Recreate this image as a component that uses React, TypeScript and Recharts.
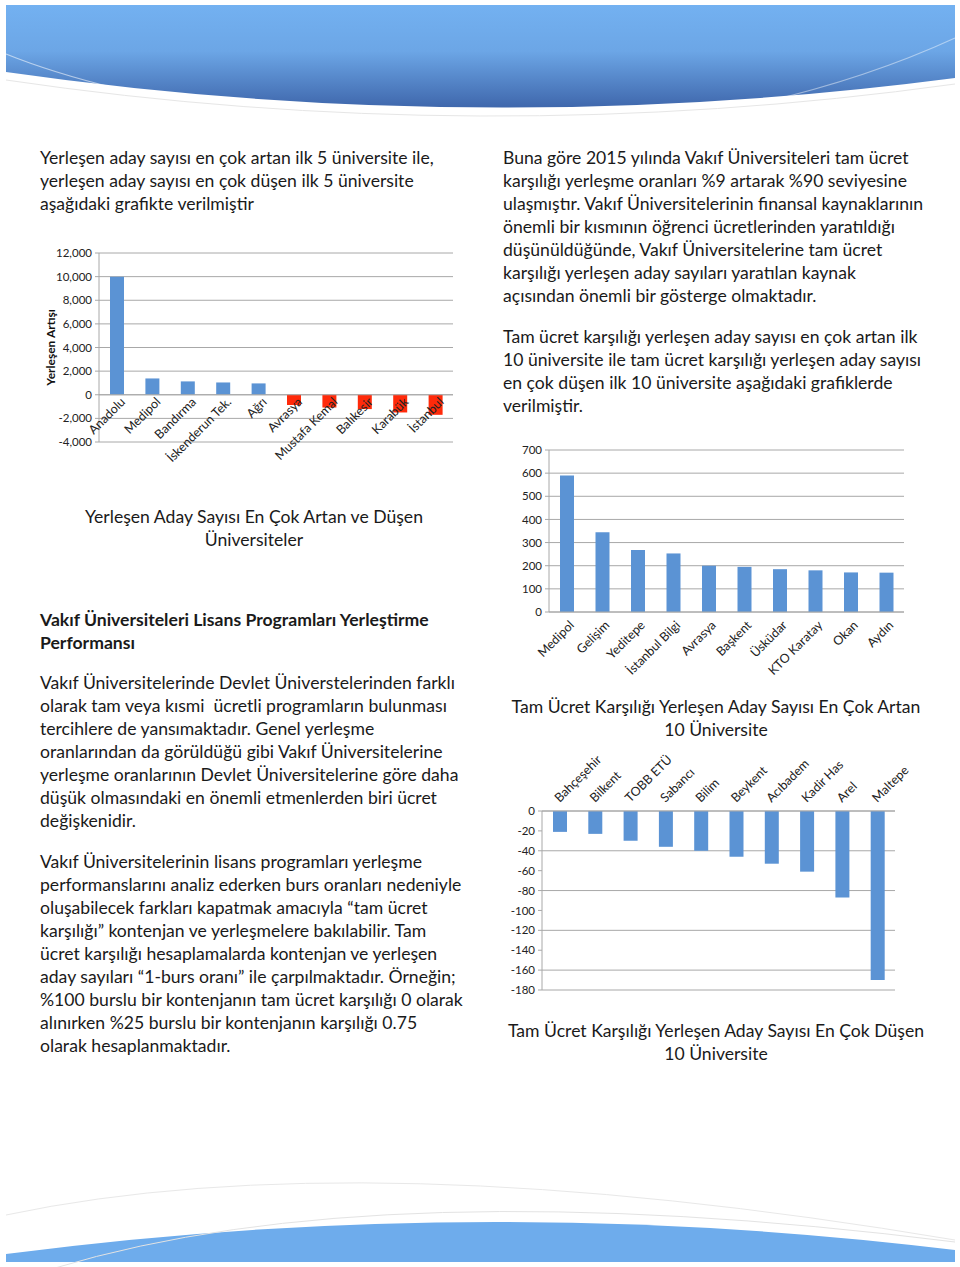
import { Bar, BarChart, CartesianGrid, Cell, LabelList, ReferenceLine, XAxis, YAxis } from "recharts";

const changeNames = ["Anadolu", "Medipol", "Bandırma", "İskenderun Tek.", "Ağrı", "Avrasya", "Mustafa Kemal", "Balıkesir", "Karabük", "İstanbul"];
const changeValues = [10000, 1380, 1130, 1040, 960, -870, -1080, -1215, -1500, -1700];
const changeTicks = [-4000, -2000, 0, 2000, 4000, 6000, 8000, 10000, 12000];

const riseNames = ["Medipol", "Gelişim", "Yeditepe", "İstanbul Bilgi", "Avrasya", "Başkent", "Üsküdar", "KTO Karatay", "Okan", "Aydın"];
const riseValues = [590, 345, 268, 253, 200, 195, 185, 180, 171, 170];
const riseTicks = [0, 100, 200, 300, 400, 500, 600, 700];

const fallNames = ["Bahçeşehir", "Bilkent", "TOBB ETÜ", "Sabancı", "Bilim", "Beykent", "Acıbadem", "Kadir Has", "Arel", "Maltepe"];
const fallValues = [-21, -23, -30, -36, -40, -46, -53, -61, -87, -170];
const fallTicks = [-180, -160, -140, -120, -100, -80, -60, -40, -20, 0];

const leftIntro = [
  "Yerleşen aday sayısı en çok artan ilk 5 üniversite ile,",
  "yerleşen aday sayısı en çok düşen ilk 5 üniversite",
  "aşağıdaki grafikte verilmiştir",
];
const leftHeading = ["Vakıf Üniversiteleri Lisans Programları Yerleştirme", "Performansı"];
const leftPara1 = [
  "Vakıf Üniversitelerinde Devlet Üniverstelerinden farklı",
  "olarak tam veya kısmi  ücretli programların bulunması",
  "tercihlere de yansımaktadır. Genel yerleşme",
  "oranlarından da görüldüğü gibi Vakıf Üniversitelerine",
  "yerleşme oranlarının Devlet Üniversitelerine göre daha",
  "düşük olmasındaki en önemli etmenlerden biri ücret",
  "değişkenidir.",
];
const leftPara2 = [
  "Vakıf Üniversitelerinin lisans programları yerleşme",
  "performanslarını analiz ederken burs oranları nedeniyle",
  "oluşabilecek farkları kapatmak amacıyla “tam ücret",
  "karşılığı” kontenjan ve yerleşmelere bakılabilir. Tam",
  "ücret karşılığı hesaplamalarda kontenjan ve yerleşen",
  "aday sayıları “1-burs oranı” ile çarpılmaktadır. Örneğin;",
  "%100 burslu bir kontenjanın tam ücret karşılığı 0 olarak",
  "alınırken %25 burslu bir kontenjanın karşılığı 0.75",
  "olarak hesaplanmaktadır.",
];
const rightPara1 = [
  "Buna göre 2015 yılında Vakıf Üniversiteleri tam ücret",
  "karşılığı yerleşme oranları %9 artarak %90 seviyesine",
  "ulaşmıştır. Vakıf Üniversitelerinin finansal kaynaklarının",
  "önemli bir kısmının öğrenci ücretlerinden yaratıldığı",
  "düşünüldüğünde, Vakıf Üniversitelerine tam ücret",
  "karşılığı yerleşen aday sayıları yaratılan kaynak",
  "açısından önemli bir gösterge olmaktadır.",
];
const rightPara2 = [
  "Tam ücret karşılığı yerleşen aday sayısı en çok artan ilk",
  "10 üniversite ile tam ücret karşılığı yerleşen aday sayısı",
  "en çok düşen ilk 10 üniversite aşağıdaki grafiklerde",
  "verilmiştir.",
];

const FONT = "Lato, 'Open Sans', sans-serif";
const BLUE = "#5B93D4";
const RED = "#FF2A0A";
const GRID = "#A8A8A8";

const changeData = changeNames.map((name, i) => ({ name, value: changeValues[i] }));
const riseData = riseNames.map((name, i) => ({ name, value: riseValues[i] }));
const fallData = fallNames.map((name, i) => ({ name, value: fallValues[i] }));

const tickStyle = { fontSize: 11.5, fill: "#222", fontFamily: FONT };
const catStyle = { fontSize: 12.5, fill: "#222", fontFamily: FONT };

function TextBlock({ lines, left, top, width, bold, center }: any) {
  return (
    <div
      style={{
        position: "absolute",
        left,
        top,
        width,
        fontFamily: FONT,
        fontSize: 17.6,
        lineHeight: "23px",
        color: "#1a1a1a",
        whiteSpace: "pre",
        fontWeight: bold ? 700 : 400,
        textAlign: center ? "center" : "left",
      }}
    >
      {lines.map((l: string, i: number) => (
        <div key={i}>{l}</div>
      ))}
    </div>
  );
}

// labels for chart 1 sit on the zero line, so draw them from the bars
function ZeroLabel(props: any) {
  const { x, y, width, height, value, index } = props;
  const v = changeValues[index];
  const zero = v >= 0 ? Math.max(y, y + height) : Math.min(y, y + height);
  const ax = x + width / 2 + 9;
  const ay = zero + 8;
  return (
    <text x={ax} y={ay} transform={`rotate(-45 ${ax} ${ay})`} textAnchor="end" style={catStyle}>
      {value}
    </text>
  );
}

function BottomTick({ x, y, payload }: any) {
  const ax = x + 8;
  const ay = y + 14;
  return (
    <text x={ax} y={ay} transform={`rotate(-45 ${ax} ${ay})`} textAnchor="end" style={catStyle}>
      {payload.value}
    </text>
  );
}

function TopTick({ x, y, payload }: any) {
  const ax = x;
  const ay = y - 8;
  return (
    <text x={ax} y={ay} transform={`rotate(-45 ${ax} ${ay})`} textAnchor="start" style={catStyle}>
      {payload.value}
    </text>
  );
}

function YTitle(props: any) {
  const vb = props.viewBox;
  const cx = vb.x + 10;
  const cy = vb.y + vb.height / 2;
  return (
    <text
      x={cx}
      y={cy}
      transform={`rotate(-90 ${cx} ${cy})`}
      textAnchor="middle"
      dominantBaseline="central"
      style={{ fontSize: 12, fontWeight: 700, fill: "#111", fontFamily: FONT }}
    >
      Yerleşen Artışı
    </text>
  );
}

function Header() {
  return (
    <svg width={960} height={150} style={{ position: "absolute", left: 0, top: 0 }}>
      <defs>
        <linearGradient id="hdr" x1="0" y1="0" x2="0" y2="1">
          <stop offset="0%" stopColor="#73B1F1" />
          <stop offset="45%" stopColor="#6CA6E6" />
          <stop offset="100%" stopColor="#3F67AC" />
        </linearGradient>
      </defs>
      <path d="M6 5 H955 V78 Q480 140 6 72 Z" fill="url(#hdr)" />
      <path d="M6 54 Q120 100 330 125" stroke="#ffffff" strokeOpacity={0.55} strokeWidth={1.2} fill="none" />
      <path d="M955 38 Q820 100 640 125" stroke="#ffffff" strokeOpacity={0.45} strokeWidth={1.2} fill="none" />
      <path d="M6 80 Q480 150 955 84" stroke="#e6e6e6" strokeWidth={1} fill="none" />
    </svg>
  );
}

function Footer() {
  return (
    <svg width={960} height={90} style={{ position: "absolute", left: 0, top: 1180 }}>
      <path d="M6 82 V74 Q480 12 955 70 V82 Z" fill="#6EACEC" />
      <path d="M6 35 Q360 -40 955 60" stroke="#e8e8e8" strokeWidth={1} fill="none" />
      <path d="M55 88 Q380 -10 955 62" stroke="#e3e3e3" strokeWidth={1} fill="none" />
    </svg>
  );
}

export default function App() {
  return (
    <div style={{ position: "absolute", left: 0, top: 0, width: 960, height: 1267, background: "#fff", overflow: "hidden" }}>
      <Header />
      <Footer />

      <TextBlock lines={leftIntro} left={40} top={146} />
      <TextBlock lines={rightPara1} left={503} top={146} />
      <TextBlock lines={rightPara2} left={503} top={325} />

      <div style={{ position: "absolute", left: 40, top: 240 }}>
        <BarChart width={420} height={240} data={changeData} margin={{ top: 13, right: 7, left: 0, bottom: 38 }}>
          <CartesianGrid vertical={false} stroke={GRID} />
          <XAxis dataKey="name" hide />
          <YAxis
            width={59}
            domain={[-4000, 12000]}
            ticks={changeTicks}
            tickFormatter={(v: number) => v.toLocaleString("en-US")}
            tick={tickStyle}
            stroke={GRID}
            tickSize={4}
            tickMargin={3}
            label={{ content: YTitle }}
          />
          <ReferenceLine y={0} stroke={GRID} />
          <Bar dataKey="value" barSize={14} isAnimationActive={false}>
            {changeData.map((d) => (
              <Cell key={d.name} fill={d.value >= 0 ? BLUE : RED} />
            ))}
            <LabelList dataKey="name" content={ZeroLabel} />
          </Bar>
        </BarChart>
      </div>

      <TextBlock lines={["Yerleşen Aday Sayısı En Çok Artan ve Düşen", "Üniversiteler"]} left={40} top={505} width={428} center />

      <div style={{ position: "absolute", left: 500, top: 440 }}>
        <BarChart width={420} height={250} data={riseData} margin={{ top: 10, right: 16, left: 0, bottom: 8 }}>
          <CartesianGrid vertical={false} stroke={GRID} />
          <XAxis dataKey="name" interval={0} height={70} tick={<BottomTick />} tickLine={false} tickSize={0} tickMargin={0} stroke={GRID} />
          <YAxis width={49} domain={[0, 700]} ticks={riseTicks} tick={tickStyle} stroke={GRID} tickSize={4} tickMargin={3} />
          <Bar dataKey="value" barSize={14} fill={BLUE} isAnimationActive={false} />
        </BarChart>
      </div>

      <TextBlock lines={["Tam Ücret Karşılığı Yerleşen Aday Sayısı En Çok Artan", "10 Üniversite"]} left={500} top={695} width={432} center />

      <div style={{ position: "absolute", left: 500, top: 740 }}>
        <BarChart width={420} height={260} data={fallData} margin={{ top: 0, right: 25, left: 0, bottom: 10 }}>
          <CartesianGrid vertical={false} stroke={GRID} />
          <XAxis dataKey="name" orientation="top" interval={0} height={71} tick={<TopTick />} tickLine={false} tickSize={0} tickMargin={0} stroke={GRID} />
          <YAxis width={42} domain={[-180, 0]} ticks={fallTicks} tick={tickStyle} stroke={GRID} tickSize={4} tickMargin={3} />
          <Bar dataKey="value" barSize={14} fill={BLUE} isAnimationActive={false} />
        </BarChart>
      </div>

      <TextBlock lines={["Tam Ücret Karşılığı Yerleşen Aday Sayısı En Çok Düşen", "10 Üniversite"]} left={500} top={1019} width={432} center />

      <TextBlock lines={leftHeading} left={40} top={608} bold />
      <TextBlock lines={leftPara1} left={40} top={671} />
      <TextBlock lines={leftPara2} left={40} top={850} />
    </div>
  );
}
